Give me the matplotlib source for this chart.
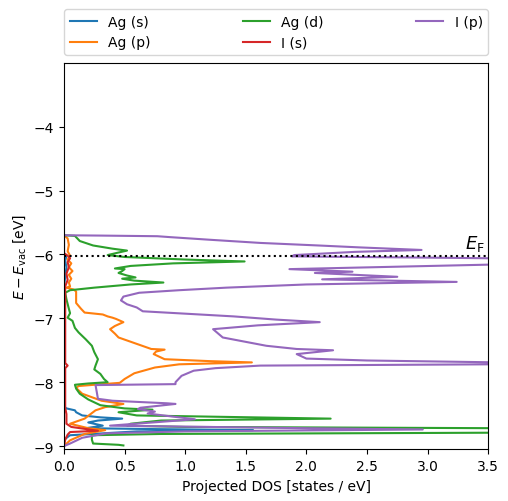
import matplotlib.pyplot as plt

# Projected DOS of Ag / I states, energies relative to vacuum level
e_fermi = -6.02

# Ag (s)
ag_s_e = [-5.70, -5.98, -6.02, -6.10, -6.20, -6.35, -6.50, -8.38, -8.41, -8.44, -8.47,
          -8.52, -8.55, -8.57, -8.60, -8.63, -8.68, -8.72, -8.735, -8.75, -8.77, -8.83,
          -8.90, -9.00]
ag_s_dos = [0.0, 0.0, 0.02, 0.01, 0.02, 0.01, 0.0, 0.0, 0.02, 0.09, 0.10,
            0.15, 0.30, 0.48, 0.28, 0.20, 0.32, 0.18, 0.80, 1.56, 0.60, 0.05,
            0.0, 0.0]

# Ag (p)
ag_p_e = [-5.70, -5.75, -5.85, -5.95, -6.02, -6.08, -6.14, -6.20, -6.26, -6.32, -6.38,
          -6.44, -6.50, -6.52, -6.55, -6.58, -6.76, -6.85, -6.91, -6.94, -6.97, -6.99,
          -7.01, -7.06, -7.12, -7.17, -7.24, -7.30, -7.40, -7.48, -7.49, -7.52, -7.56,
          -7.64, -7.67, -7.69, -7.72, -7.77, -7.86, -7.95, -8.01, -8.04, -8.06, -8.09,
          -8.18, -8.29, -8.34, -8.39, -8.44, -8.57, -8.65, -8.72, -8.75, -8.81, -8.91,
          -8.98, -9.00]
ag_p_dos = [0.0, 0.03, 0.04, 0.03, 0.05, 0.03, 0.06, 0.04, 0.07, 0.04, 0.06,
            0.04, 0.05, 0.02, 0.08, 0.10, 0.10, 0.14, 0.17, 0.32, 0.36, 0.40,
            0.43, 0.49, 0.42, 0.38, 0.42, 0.45, 0.60, 0.72, 0.83, 0.76, 0.74,
            0.83, 1.20, 1.55, 0.95, 0.75, 0.58, 0.50, 0.46, 0.25, 0.12, 0.10,
            0.15, 0.31, 0.49, 0.34, 0.26, 0.17, 0.05, 0.20, 0.34, 0.17, 0.05,
            0.01, 0.0]

# Ag (d)
ag_d_e = [-5.70, -5.71, -5.79, -5.86, -5.91, -5.94, -5.97, -6.01, -6.04, -6.08, -6.11,
          -6.14, -6.18, -6.22, -6.23, -6.26, -6.29, -6.33, -6.36, -6.38, -6.41, -6.44,
          -6.47, -6.52, -6.56, -6.60, -6.70, -6.85, -6.92, -6.99, -7.04, -7.15, -7.22,
          -7.33, -7.43, -7.53, -7.64, -7.74, -7.80, -7.87, -7.95, -8.00, -8.02, -8.04,
          -8.10, -8.18, -8.27, -8.36, -8.41, -8.43, -8.47, -8.52, -8.57, -8.60, -8.65,
          -8.68, -8.70, -8.72, -8.755, -8.79, -8.81, -8.83, -8.90, -8.96, -8.98, -8.99]
ag_d_dos = [0.0, 0.09, 0.13, 0.24, 0.40, 0.52, 0.45, 0.36, 0.50, 1.00, 1.49,
            0.90, 0.55, 0.42, 0.50, 0.48, 0.45, 0.52, 0.59, 0.48, 0.58, 0.82,
            0.55, 0.25, 0.05, 0.01, 0.02, 0.04, 0.05, 0.03, 0.07, 0.09, 0.12,
            0.18, 0.23, 0.25, 0.28, 0.26, 0.25, 0.30, 0.33, 0.36, 0.20, 0.09,
            0.10, 0.13, 0.20, 0.30, 0.50, 0.73, 0.45, 0.60, 2.20, 0.80, 0.55,
            0.52, 1.00, 3.60, 6.50, 3.60, 0.80, 0.23, 0.23, 0.24, 0.45, 0.49]

# I (s)
i_s_e = [-5.70, -5.98, -6.02, -6.06, -6.12, -6.20, -6.30, -6.40, -6.50, -7.00, -7.70,
         -7.74, -7.78, -8.40, -8.50, -8.65, -8.70, -8.73, -8.76, -8.78, -8.82, -8.90,
         -9.00]
i_s_dos = [0.0, 0.0, 0.03, 0.05, 0.03, 0.04, 0.02, 0.03, 0.01, 0.01, 0.01,
           0.03, 0.01, 0.01, 0.02, 0.02, 0.06, 0.17, 0.28, 0.05, 0.03, 0.01,
           0.0]

# I (p)
i_p_e = [-5.70, -5.705, -5.715, -5.73, -5.77, -5.82, -5.86, -5.89, -5.93, -5.96, -6.01,
         -6.03, -6.05, -6.08, -6.12, -6.16, -6.23, -6.27, -6.29, -6.35, -6.39, -6.43,
         -6.47, -6.52, -6.56, -6.60, -6.66, -6.72, -6.78, -6.83, -6.89, -6.94, -6.97,
         -7.02, -7.06, -7.11, -7.17, -7.30, -7.43, -7.48, -7.50, -7.56, -7.63, -7.66,
         -7.69, -7.705, -7.72, -7.74, -7.78, -7.82, -7.90, -8.00, -8.03, -8.045, -8.15,
         -8.26, -8.29, -8.33, -8.34, -8.40, -8.42, -8.46, -8.49, -8.58, -8.68, -8.72,
         -8.74, -8.77, -8.80, -8.87, -8.96, -9.00]
i_p_dos = [0.0, 0.30, 0.77, 0.88, 1.20, 1.62, 2.10, 2.44, 2.95, 2.40, 1.90,
           1.88, 3.00, 4.50, 5.00, 3.50, 1.86, 2.38, 2.07, 2.75, 2.13, 3.24,
           2.00, 1.34, 0.95, 0.62, 0.49, 0.47, 0.52, 0.60, 0.65, 1.12, 1.40,
           1.75, 2.11, 1.60, 1.23, 1.31, 1.67, 1.92, 2.22, 1.92, 2.00, 2.50,
           3.60, 6.00, 3.50, 1.62, 1.25, 1.07, 0.97, 0.92, 0.92, 0.26, 0.27,
           0.28, 0.40, 0.85, 0.92, 0.63, 0.61, 0.75, 0.69, 1.08, 0.38, 2.00,
           2.96, 1.00, 0.35, 0.15, 0.05, 0.0]

fig = plt.figure(figsize=(5.08, 5.02), dpi=100)
ax = fig.add_axes([0.126, 0.103, 0.835, 0.770])

ax.plot(ag_s_dos, ag_s_e, label='Ag (s)')
ax.plot(ag_p_dos, ag_p_e, label='Ag (p)')
ax.plot(ag_d_dos, ag_d_e, label='Ag (d)')
ax.plot(i_s_dos, i_s_e, label='I (s)')
ax.plot(i_p_dos, i_p_e, label='I (p)')

ax.axhline(e_fermi, color='k', linestyle=':', zorder=5)
ax.text(3.47, e_fermi + 0.04, r'$E_\mathrm{F}$', fontsize=13, ha='right', va='bottom')

ax.set_xlim(0, 3.5)
ax.set_ylim(-9.05, -3.0)
ax.set_yticks([-9, -8, -7, -6, -5, -4])
ax.set_xlabel('Projected DOS [states / eV]')
ax.set_ylabel(r'$E - E_\mathrm{vac}$ [eV]')

ax.legend(bbox_to_anchor=(0, 1.02, 1, 0.2), loc='lower left', mode='expand',
          borderaxespad=0, ncol=3)

plt.savefig('out.png', dpi=100)
